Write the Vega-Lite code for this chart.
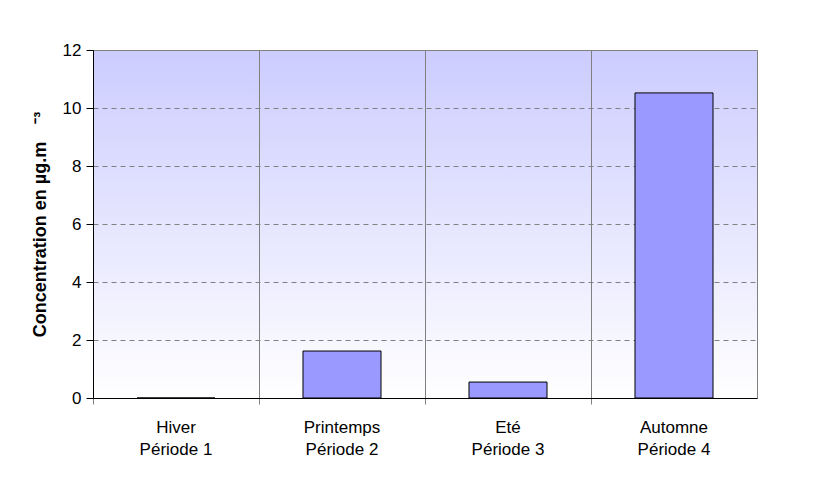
{
  "$schema": "https://vega.github.io/schema/vega-lite/v6.json",
  "width": 664,
  "height": 348,
  "autosize": {"type": "none"},
  "padding": {"left": 93, "top": 50, "right": 58, "bottom": 80},
  "background": "white",
  "data": {"values": [
    {"saison": "Hiver\nPériode 1", "valeur": 0},
    {"saison": "Printemps\nPériode 2", "valeur": 1.62},
    {"saison": "Eté\nPériode 3", "valeur": 0.55},
    {"saison": "Automne\nPériode 4", "valeur": 10.52}
  ]},
  "config": {
    "view": {"stroke": "#808080", "strokeWidth": 1, "fill": {
        "gradient": "linear", "x1": 0, "y1": 0, "x2": 0, "y2": 1,
        "stops": [{"offset": 0, "color": "#ccccff"}, {"offset": 1, "color": "#ffffff"}]
      }},
    "font": "Liberation Sans"
  },
  "mark": {"type": "bar", "fill": "#9999ff", "stroke": "black", "strokeWidth": 1},
  "encoding": {
    "x": {
      "field": "saison", "type": "nominal", "sort": null,
      "scale": {"paddingInner": 0.53, "paddingOuter": 0.265},
      "axis": {
        "title": null, "labelAngle": 0, "labelFontSize": 17, "labelColor": "black",
        "labelExpr": "datum.value ? split(datum.value, '\\n') : ''", "labelLineHeight": 22, "labelPadding": 15,
        "bandPosition": -0.5638,
        "grid": true, "gridColor": "#808080", "gridWidth": 1,
        "ticks": true, "tickColor": "#808080", "tickSize": 6,
        "domain": true, "domainColor": "black", "labelFont": "Liberation Sans"
      }
    },
    "y": {
      "field": "valeur", "type": "quantitative",
      "scale": {"domain": [0, 12]},
      "axis": {
        "title": "Concentration en µg.m\u2002\u2002⁻³", "titleFontSize": 18, "titleFontWeight": "bold",
        "titleColor": "black", "titleFont": "Liberation Sans", "titlePadding": 13,
        "values": [0, 2, 4, 6, 8, 10, 12], "labelFontSize": 17, "labelColor": "black",
        "labelFont": "Liberation Sans", "labelPadding": 5,
        "grid": true, "gridColor": "#808080", "gridDash": [5, 4], "gridWidth": 1,
        "tickColor": "black", "tickSize": 7, "domainColor": "black"
      }
    }
  }
}
